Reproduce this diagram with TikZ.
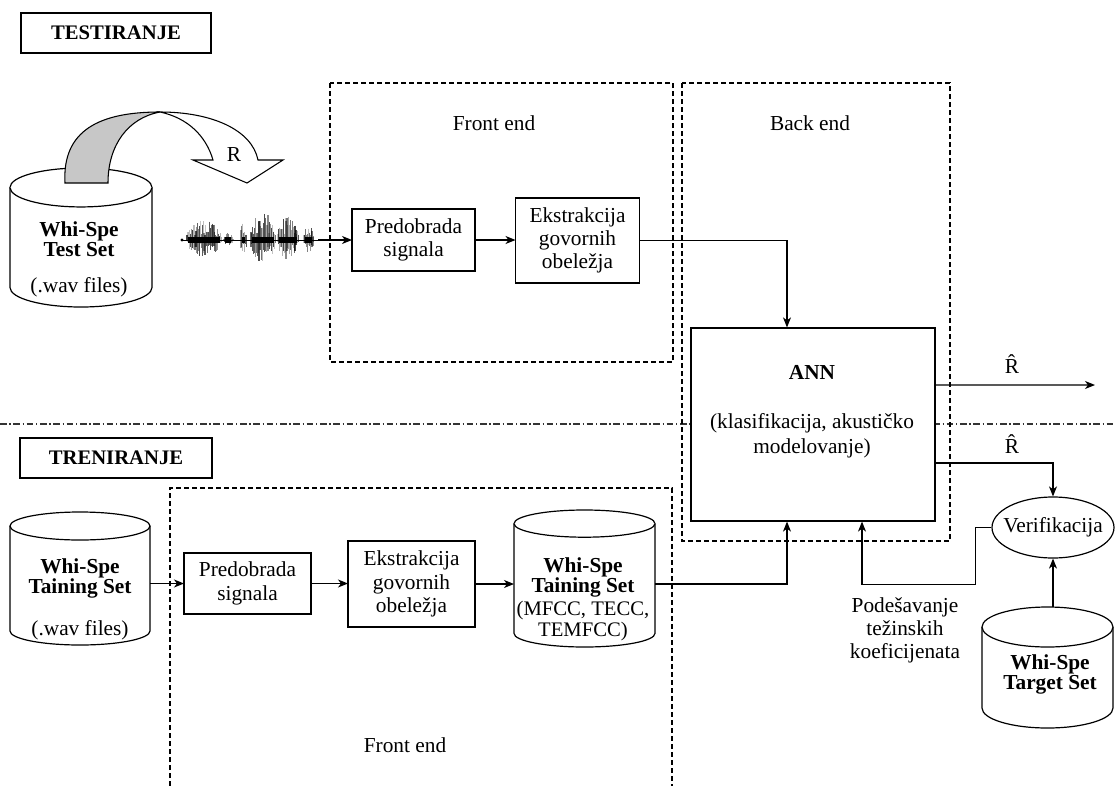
\documentclass[tikz,border=0pt]{standalone}
\usepackage{fontspec}
\setmainfont{Liberation Serif}
\usetikzlibrary{arrows.meta,shapes.geometric,calc}

\newcommand{\drawcyl}[3]{% node name, x radius, y radius
  \draw[cylline] ([yshift=-#3]#1.north west) -- ([yshift=#3]#1.south west)
    arc[start angle=180,end angle=360,x radius=#2,y radius=#3]
    -- ([yshift=-#3]#1.north east)
    arc[start angle=0,end angle=180,x radius=#2,y radius=#3] -- cycle;
  \draw[cylline] ([yshift=-#3]#1.north west)
    arc[start angle=180,end angle=360,x radius=#2,y radius=#3];
}

\tikzset{
  txt/.style={font=\fontsize{16}{17.5}\selectfont, align=center, inner sep=0pt},
  btxt/.style={font=\fontsize{16}{15}\selectfont\bfseries, align=center, inner sep=0pt},
  box/.style={draw, fill=white, line width=0.9pt, inner sep=0pt, outer sep=0pt, align=center,
              font=\fontsize{16}{17.5}\selectfont},
  hbox/.style={draw, fill=white, line width=0.9pt, inner sep=0pt, outer sep=0pt,
              font=\fontsize{15.5}{17.5}\selectfont\bfseries},
  cylbody/.style={inner sep=0pt, outer sep=0pt},
  cylline/.style={line width=0.9pt, fill=white},
  dbox/.style={line width=0.9pt, dash pattern=on 3.5pt off 2.5pt},
  ddot/.style={line width=0.8pt, black!80, dash pattern=on 5pt off 2pt on 1pt off 2pt},
  arr/.style={line width=0.9pt, -{Stealth[length=7.5pt,width=6pt,inset=2.2pt]}},
}

\begin{document}
\begin{tikzpicture}[x=0.75pt,y=-0.75pt]
\useasboundingbox (0,0) rectangle (1115,786);

% separator line
\draw[ddot] (0,424) -- (1115,424);

% headings
\node[hbox, minimum width=142.5pt, minimum height=30pt] (testir) at (116,33) {TESTIRANJE};
\node[hbox, minimum width=144pt, minimum height=30pt] (trenir) at (116,458) {TRENIRANJE};

% dashed regions
\draw[dbox] (330,83) rectangle (673,362);
\draw[dbox] (682,83) rectangle (950,541);
\draw[dbox] (170,786) -- (170,488) -- (672,488) -- (672,786);
\node[txt] (fe1) at (494,123) {Front end};
\node[txt] (be) at (810,123) {Back end};
\node[txt] (fe2) at (405,745) {Front end};

% ---------- TESTIRANJE ----------
\node[cylbody, minimum width=106.5pt, minimum height=104.25pt] (tcyl) at (81,237.5) {};
\drawcyl{tcyl}{53.25pt}{14.6pt}
\node[btxt] (tcylT) at (79,239) {Whi-Spe\\Test Set};
\node[txt] (tcylW) at (79,287) {(.wav files)};

% curved gray arrow
\filldraw[line width=0.8pt, fill=black!22]
  (65,183) .. controls (62,130) and (100,112) .. (160,112)
  .. controls (128,118) and (108,145) .. (108,183) -- cycle;
\filldraw[line width=0.8pt, fill=white]
  (160,112) .. controls (212,112) and (252,130) .. (258,160)
  -- (283,160) -- (247,183) -- (193,160) -- (213,160)
  .. controls (206,136) and (188,118) .. (160,112) -- cycle;
\node[txt] (rlab) at (234,155) {R};

% waveform
\coordinate (wstart) at (182,240);
\coordinate (wend) at (318,240);
\draw[line width=0.7pt] (wstart) -- (wend);
\fill (wstart) circle[radius=1.3pt];
\pgfmathsetseed{12}
\foreach \s/\e/\a in {186/222/21, 223/233/7, 240/247/18, 250/276/28, 277/299/24, 303/314/18}{
  \pgfmathsetmacro\n{int((\e-\s)/0.9)}
  \foreach \i in {0,...,\n}{
    \pgfmathsetmacro\xx{\s+0.9*\i}
    \pgfmathsetmacro\env{\a*sqrt(abs(sin(180*(\xx-\s)/(\e-\s))))}
    \pgfmathsetmacro\up{\env*(0.25+0.75*rnd)}
    \pgfmathsetmacro\dn{\env*(0.2+0.6*rnd)}
    \pgfmathsetmacro\op{0.2+0.55*rnd}
    \draw[line width=0.9pt, black, opacity=\op] (\xx,240-\up) -- (\xx,240+\dn);
  }
  \draw[line width=4pt] (\s+2,240) -- (\e-2,240);
}

\node[box, minimum width=92.25pt, minimum height=46.5pt] (pre1) at (413.5,240) {Predobrada\\signala};
\node[box, minimum width=93pt, minimum height=63.75pt] (ext1) at (577.5,240.5) {Ekstrakcija\\govornih\\obeležja};
\draw[arr] (wend) -- (pre1.west);
\draw[arr] (pre1.east) -- (pre1.east -| ext1.west);

% ANN
\node[draw, fill=white, line width=0.9pt, minimum width=183pt, minimum height=144.75pt, inner sep=0pt] (ann) at (813,424.5) {};
\node[btxt] (annT) at (812,372) {ANN};
\node[txt, font=\fontsize{16}{18.75}\selectfont] (annD) at (812,436) {(klasifikacija, akustičko\\modelovanje)};
\draw[arr] (ext1.east) -| ([xshift=-19.5pt]ann.north);

% outputs
\coordinate (out1) at (1095,385);
\draw[arr] ([yshift=29.6pt]ann.east) -- (out1);
\node[txt] (rhat1) at (1012,364) {\^{R}};
\node[draw, ellipse, fill=white, line width=0.9pt, minimum width=91.5pt, minimum height=45.75pt, inner sep=0pt] (verif) at (1053,527.5) {};
\node[txt] (verifT) at (verif) {Verifikacija};
\draw[arr] ([yshift=-28.9pt]ann.east) -| (verif.north);
\node[txt] (rhat2) at (1012,444) {\^{R}};

% feedback
\draw[arr] (verif.west) -- ++(-16,0) -- ++(0,57) -| ([xshift=36.75pt]ann.south);
\node[txt, font=\fontsize{16}{17.25}\selectfont] (pod) at (905,630) {Podešavanje\\težinskih\\koeficijenata};

% target set
\node[cylbody, minimum width=98.25pt, minimum height=90.75pt] (tgt) at (1047.5,667.5) {};
\drawcyl{tgt}{49.125pt}{15pt}
\node[btxt] (tgtT) at (1050,674) {Whi-Spe\\Target Set};
\draw[arr] (verif.south |- tgt.north) -- (verif.south);

% ---------- TRENIRANJE ----------
\node[cylbody, minimum width=105pt, minimum height=99.75pt] (rcyl) at (80,578.5) {};
\drawcyl{rcyl}{52.5pt}{10.5pt}
\node[btxt] (rcylT) at (80,578) {Whi-Spe\\Taining Set};
\node[txt] (rcylW) at (80,630) {(.wav files)};

\node[box, minimum width=95.25pt, minimum height=45.75pt] (pre2) at (247.5,583.5) {Predobrada\\signala};
\node[box, minimum width=95.25pt, minimum height=64.5pt] (ext2) at (411.5,584) {Ekstrakcija\\govornih\\obeležja};

\node[cylbody, minimum width=105.75pt, minimum height=102.75pt] (mcyl) at (584.5,578.5) {};
\drawcyl{mcyl}{52.875pt}{10.2pt}
\node[btxt] (mcylT) at (583,577.5) {Whi-Spe\\Taining Set};
\node[txt, font=\fontsize{15.5}{14}\selectfont] (mcylF) at (583,621) {(MFCC, TECC,\\TEMFCC)};

\draw[arr] (rcyl.east |- pre2) -- (pre2.west);
\draw[arr] (pre2.east) -- (pre2.east -| ext2.west);
\draw[arr] (ext2.east) -- (ext2.east -| mcyl.west);
\draw[arr] (mcyl.east |- ext2.east) -| ([xshift=-19.5pt]ann.south);
\end{tikzpicture}
\end{document}
